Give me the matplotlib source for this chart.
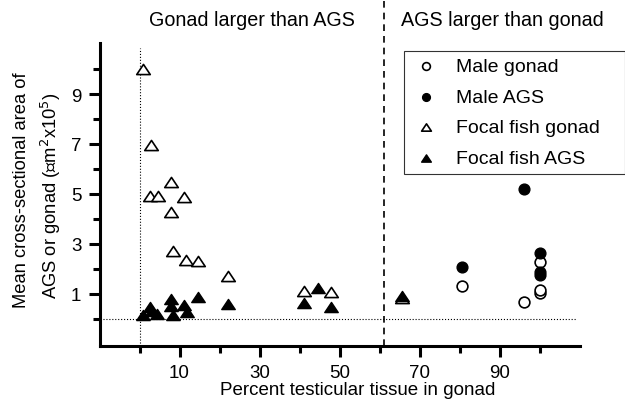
import matplotlib
matplotlib.use("Agg")
import matplotlib.pyplot as plt
from matplotlib.path import Path
from matplotlib.ticker import FixedLocator

plt.rcParams['font.family'] = ['Liberation Sans', 'DejaVu Sans']

# percent testicular tissue / mean cross-sectional area (x10^5)
focal_gonad_x = [0.9, 2.9, 7.9, 2.6, 4.7, 11.2, 7.8, 8.3, 11.6, 14.5, 22.2, 41.2, 47.8, 65.5]
focal_gonad_y = [10.0, 6.96, 5.47, 4.93, 4.93, 4.87, 4.29, 2.71, 2.37, 2.31, 1.71, 1.10, 1.09, 0.84]
focal_ags_x = [0.9, 2.6, 3.0, 4.3, 7.8, 7.8, 8.3, 11.2, 11.8, 14.5, 22.2, 41.1, 44.5, 47.8, 65.5]
focal_ags_y = [0.14, 0.47, 0.33, 0.20, 0.80, 0.53, 0.14, 0.56, 0.27, 0.89, 0.61, 0.62, 1.23, 0.47, 0.93]
male_gonad_x = [80.6, 96.0, 100.0, 100.0, 100.0]
male_gonad_y = [1.33, 0.69, 2.29, 1.04, 1.14]
male_ags_x = [80.6, 96.0, 100.0, 100.0, 100.0]
male_ags_y = [2.07, 5.20, 2.63, 1.76, 1.88]

divide_x = 61.2
x_major = [10, 30, 50, 70, 90]
x_minor = [0, 20, 40, 60, 80, 100]
y_major = [1, 3, 5, 7, 9]
y_minor = [0, 2, 4, 6, 8, 10]

# wide, flat triangle like the original
tri = Path([(0, 0.75), (-1, -0.75), (1, -0.75), (0, 0.75)],
           [Path.MOVETO, Path.LINETO, Path.LINETO, Path.CLOSEPOLY])

fig = plt.figure(figsize=(6.25, 4.02), dpi=100)
ax = fig.add_axes([0.1592, 0.1376, 0.768, 0.7529])

ax.axvline(0, color='k', ls=':', lw=0.8, ymax=0.985)
ax.axhline(0, color='k', ls=':', lw=0.8, xmax=0.995)
ax.plot([divide_x, divide_x], [-1.07, 12.8], color='k', ls=(0, (4, 3)), lw=1.2, clip_on=False)

ax.scatter(focal_gonad_x, focal_gonad_y, marker=tri, s=95, facecolor='white',
           edgecolor='k', linewidth=1.2, zorder=3, label='Focal fish gonad')
ax.scatter(focal_ags_x, focal_ags_y, marker=tri, s=95, facecolor='k',
           edgecolor='k', linewidth=1.0, zorder=4, label='Focal fish AGS')
ax.scatter(male_gonad_x, male_gonad_y, marker='o', s=60, facecolor='white',
           edgecolor='k', linewidth=1.2, zorder=3, label='Male gonad')
ax.scatter(male_ags_x, male_ags_y, marker='o', s=60, facecolor='k',
           edgecolor='k', linewidth=1.0, zorder=4, label='Male AGS')

ax.set_xlim(-10, 110)
ax.set_ylim(-1.07, 11.04)
for s in ['top', 'right']:
    ax.spines[s].set_visible(False)
for s in ['left', 'bottom']:
    ax.spines[s].set_linewidth(2.2)

ax.xaxis.set_major_locator(FixedLocator(x_major))
ax.xaxis.set_minor_locator(FixedLocator(x_minor))
ax.yaxis.set_major_locator(FixedLocator(y_major))
ax.yaxis.set_minor_locator(FixedLocator(y_minor))
ax.tick_params(which='major', length=8, width=2.2, labelsize=13.5, pad=5)
ax.tick_params(which='minor', length=5, width=2.2)

fig.text(358 / 625, 1 - 391 / 402, 'Percent testicular tissue in gonad',
         ha='center', va='center', fontsize=13.5)
fig.text(22 / 625, 1 - 190 / 402, 'Mean cross-sectional area of',
         ha='center', va='center', rotation=90, fontsize=13.2)
fig.text(51 / 625, 1 - 196 / 402, 'AGS or gonad (\u221dm$^2$x10$^5$)',
         ha='center', va='center', rotation=90, fontsize=13.2)

fig.text(252 / 625, 1 - 20 / 402, 'Gonad larger than AGS', ha='center', va='center', fontsize=14.2)
fig.text(502 / 625, 1 - 20 / 402, 'AGS larger than gonad', ha='center', va='center', fontsize=14.2)

h, l = ax.get_legend_handles_labels()
order = [2, 3, 0, 1]
leg = fig.legend([h[i] for i in order], [l[i] for i in order],
                 loc='upper left', mode='expand',
                 bbox_to_anchor=(404 / 625, 1 - 173 / 402, 221 / 625, 121 / 402),
                 fontsize=14, frameon=True, fancybox=False, edgecolor='k',
                 handletextpad=0.75, labelspacing=0.66, borderpad=0.35,
                 borderaxespad=0, markerscale=0.72, handlelength=1.6)
leg.get_frame().set_linewidth(0.8)

fig.savefig('out.png', dpi=100)
